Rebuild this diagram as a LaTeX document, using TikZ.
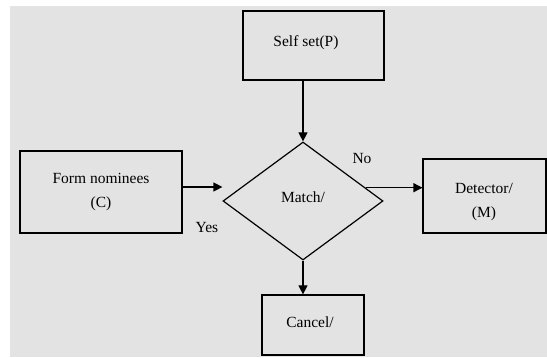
\documentclass[tikz,border=0pt]{standalone}
\usepackage{fontspec}
\setmainfont{Liberation Serif}
\usetikzlibrary{arrows.meta, shapes.geometric}
\definecolor{bggray}{RGB}{227,227,227}

\begin{document}
\begin{tikzpicture}[x=1pt, y=-1pt, line width=1.2pt, font=\fontsize{15.5}{24}\selectfont,
		block/.style={draw, rectangle, inner sep=0pt, align=center},
		tip/.style={-{Triangle[length=9pt, width=9pt]}}]
				\useasboundingbox (0,0) rectangle (547,358);
				\fill[bggray] (10,6) rectangle (547,357);

				\node[block, minimum width=141pt, minimum height=69pt] (sp) at (313.5,45.5) {};
				\node (sptext) at (306,43) {Self set(P)};
				\node[block, minimum width=162pt, minimum height=82pt] (fn) at (101,192) {Form nominees\\(C)};
				\node[draw, diamond, inner sep=0pt, minimum width=160pt, minimum height=118pt] (dia) at (303,201) {};
				\node (diatext) at (303,197) {Match/};
				\node[block, minimum width=123pt, minimum height=74pt] (det) at (484.5,196) {};
				\node[align=center] (dettext) at (484,202) {Detector/\\(M)};
				\node[block, minimum width=102pt, minimum height=60pt] (can) at (313,325) {};
				\node (cantext) at (310,322) {Cancel/};

				\coordinate (row) at (0,187);
				\path[tip]
					(sp.south -| dia) edge (dia.north)
					(fn.east |- row) edge (dia.west |- row)
					(dia.12) edge (det.west |- dia.12)
					(dia.south) edge (can.north -| dia.south);

				\node (yes) at (207,228) {Yes};
				\node (no) at (362,159) {No};
		\end{tikzpicture}
\end{document}
